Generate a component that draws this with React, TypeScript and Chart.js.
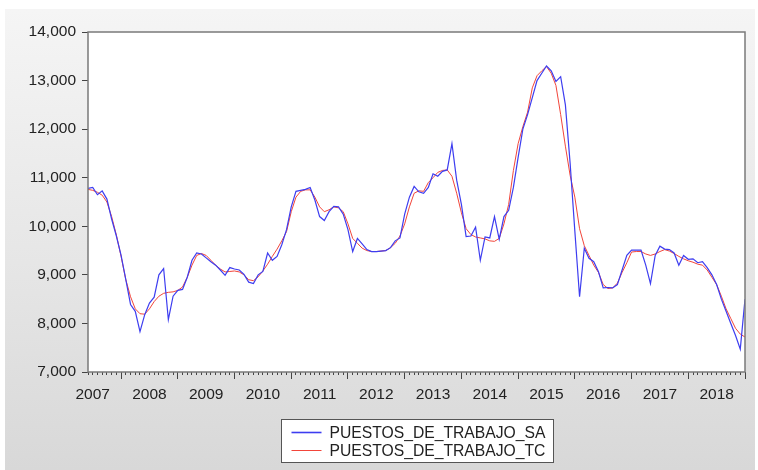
import React, { useEffect, useRef } from 'react';
import { Chart, registerables } from 'chart.js';

Chart.register(...registerables);

// Monthly observations, first one is 2007M06 (month offset 5 from Jan 2007)
const FIRST_YEAR = 2007;
const FIRST_MONTH_OFFSET = 5;

const seriesNames = ['PUESTOS_DE_TRABAJO_SA', 'PUESTOS_DE_TRABAJO_TC'];

const puestosSA = [
  10780, 10800, 10650, 10730, 10560, 10150, 9800, 9400, 8900, 8390,
  8250, 7830, 8180, 8420, 8540, 9000, 9130, 8080, 8560, 8680,
  8700, 8950, 9300, 9450, 9430, 9350, 9270, 9200, 9100, 8990,
  9150, 9120, 9100, 9010, 8850, 8820, 9000, 9070, 9450, 9300,
  9380, 9620, 9930, 10400, 10720, 10740, 10760, 10800, 10540, 10200,
  10120, 10300, 10410, 10400, 10250, 9930, 9480, 9750, 9640, 9520,
  9480, 9480, 9490, 9500, 9560, 9700, 9760, 10250, 10600, 10820,
  10710, 10680, 10800, 11080, 11030, 11130, 11160, 11700, 10950, 10450,
  9790, 9800, 9980, 9300, 9780, 9760, 10200, 9730, 10200, 10330,
  10800, 11420, 12000, 12300, 12650, 13000, 13150, 13300, 13200, 12980,
  13080, 12500, 11300, 9900, 8550, 9550, 9340, 9270, 9065, 8730,
  8740, 8730, 8800, 9100, 9400, 9510, 9510, 9510, 9200, 8820,
  9400, 9590, 9530, 9520, 9450, 9200, 9400, 9320, 9330, 9250,
  9270, 9150, 9000, 8800, 8500, 8250, 8000, 7750, 7470, 8500,
];

const puestosTC = [
  10760, 10740, 10700, 10640, 10500, 10200, 9820, 9380, 8900, 8550,
  8300, 8200, 8190, 8300, 8450, 8560, 8620, 8640, 8650, 8680,
  8750, 8950, 9200, 9400, 9440, 9400, 9300, 9200, 9120, 9060,
  9070, 9080, 9060, 9000, 8900, 8880, 8960, 9080, 9220, 9380,
  9530, 9700, 9890, 10300, 10600, 10720, 10750, 10750, 10600, 10400,
  10300, 10340, 10400, 10380, 10300, 10050, 9750, 9650, 9550, 9500,
  9480, 9480, 9490, 9500, 9560, 9650, 9800, 10050, 10400, 10680,
  10730, 10720, 10900, 11000, 11110, 11150, 11160, 11030, 10680, 10280,
  9950, 9830, 9780, 9760, 9740, 9700, 9690, 9750, 10050, 10450,
  11150, 11700, 12050, 12350, 12850, 13100, 13200, 13290, 13150, 12900,
  12300, 11650, 11050, 10600, 9950, 9600, 9400, 9200, 9050, 8800,
  8720, 8730, 8830, 9050, 9250, 9470, 9480, 9480, 9430, 9400,
  9430, 9480, 9520, 9490, 9440, 9380, 9330, 9290, 9260, 9220,
  9200, 9100, 8950, 8800, 8560, 8300, 8100, 7900, 7780, 7720,
];

const yTickValues = [7000, 8000, 9000, 10000, 11000, 12000, 13000, 14000];
const yearLabels = ['2007', '2008', '2009', '2010', '2011', '2012', '2013', '2014', '2015', '2016', '2017', '2018'];

const FONT = '"Liberation Sans", Arial, sans-serif';

const xValues = puestosSA.map((_, i) => FIRST_YEAR + (FIRST_MONTH_OFFSET + i) / 12);
const X_MIN = xValues[0];
const X_MAX = xValues[xValues.length - 1];

const monthTicks: number[] = [];
for (let k = FIRST_MONTH_OFFSET; k <= FIRST_MONTH_OFFSET + puestosSA.length - 1; k++) {
  monthTicks.push(FIRST_YEAR + k / 12);
}
const yearTicks: number[] = [];
for (let y = FIRST_YEAR + 1; y <= Math.floor(X_MAX + 1e-9); y++) yearTicks.push(y);

const frame = {
  id: 'evFrame',
  beforeDraw(chart: any) {
    const { ctx, chartArea: a } = chart;
    ctx.save();
    ctx.fillStyle = '#ffffff';
    ctx.fillRect(a.left, a.top, a.right - a.left, a.bottom - a.top);
    ctx.restore();
  },
  afterDatasetsDraw(chart: any) {
    const { ctx, chartArea: a } = chart;
    ctx.save();
    ctx.strokeStyle = '#7a7a7a';
    ctx.lineWidth = 1.5;
    ctx.strokeRect(a.left, a.top, a.right - a.left, a.bottom - a.top);
    ctx.restore();
  },
  afterDraw(chart: any) {
    const { ctx, chartArea: a } = chart;
    const ds = chart.data.datasets;
    ctx.save();
    ctx.font = '15.7px ' + FONT;
    const tw = Math.max(...ds.map((d: any) => ctx.measureText(d.label).width));
    const padL = 10, sample = 30, gap = 8, padR = 8;
    const w = Math.round(padL + sample + gap + tw + padR);
    const h = 43;
    const x0 = Math.round((a.left + a.right) / 2 - w / 2) + 0.5;
    const y0 = Math.round(a.bottom + 47) + 0.5;
    ctx.fillStyle = '#ffffff';
    ctx.fillRect(x0, y0, w, h);
    ctx.strokeStyle = '#555555';
    ctx.lineWidth = 1;
    ctx.strokeRect(x0, y0, w, h);
    ds.forEach((d: any, r: number) => {
      const yy = y0 + 13 + r * 18;
      ctx.strokeStyle = d.borderColor;
      ctx.lineWidth = r === 0 ? 1.6 : 1;
      ctx.beginPath();
      ctx.moveTo(x0 + padL, yy);
      ctx.lineTo(x0 + padL + sample, yy);
      ctx.stroke();
      ctx.fillStyle = '#222222';
      ctx.textBaseline = 'middle';
      ctx.textAlign = 'left';
      ctx.fillText(d.label, x0 + padL + sample + gap, yy + 1);
    });
    ctx.restore();
  },
};

export default function App() {
  const ref = useRef<HTMLCanvasElement | null>(null);

  useEffect(() => {
    if (!ref.current) return;
    const chart = new Chart(ref.current, {
      type: 'line',
      data: {
        datasets: [
          {
            label: seriesNames[0],
            data: puestosSA.map((v, i) => ({ x: xValues[i], y: v })),
            borderColor: '#3d3df0',
            borderWidth: 1.2,
            pointRadius: 0,
            tension: 0,
          },
          {
            label: seriesNames[1],
            data: puestosTC.map((v, i) => ({ x: xValues[i], y: v })),
            borderColor: '#f2453a',
            borderWidth: 1,
            pointRadius: 0,
            tension: 0,
          },
        ],
      },
      plugins: [frame],
      options: {
        animation: false,
        responsive: false,
        events: [],
        layout: { padding: { left: 0, top: 23, right: 9, bottom: 0 } },
        plugins: { legend: { display: false }, tooltip: { enabled: false } },
        scales: {
          xMajor: {
            type: 'linear',
            position: 'bottom',
            weight: -1,
            min: X_MIN,
            max: X_MAX,
            afterBuildTicks: (s: any) => {
              s.ticks = yearTicks.map((v) => ({ value: v }));
            },
            ticks: { display: false },
            grid: { drawOnChartArea: false, drawTicks: true, tickLength: 7, tickColor: '#444444', tickWidth: 1 },
            border: { display: false },
            afterFit: (s: any) => {
              s.height = 0;
            },
          },
          x: {
            type: 'linear',
            position: 'bottom',
            weight: 0,
            min: X_MIN,
            max: X_MAX,
            afterBuildTicks: (s: any) => {
              s.ticks = monthTicks.map((v) => ({ value: v }));
            },
            ticks: {
              autoSkip: false,
              maxRotation: 0,
              minRotation: 0,
              padding: 10,
              color: '#222222',
              font: { family: FONT, size: 15.5 },
              callback: (value: any) => {
                const k = Math.round((Number(value) - FIRST_YEAR) * 12);
                if (k % 12 === 6) return yearLabels[(k - 6) / 12] ?? '';
                return '';
              },
            },
            grid: { drawOnChartArea: false, drawTicks: true, tickLength: 3, tickColor: '#444444', tickWidth: 1 },
            border: { display: false },
            afterFit: (s: any) => {
              s.height = 98;
            },
          },
          y: {
            type: 'linear',
            position: 'left',
            min: 7000,
            max: 14000,
            afterBuildTicks: (s: any) => {
              s.ticks = yTickValues.map((v) => ({ value: v }));
            },
            ticks: {
              padding: 6,
              color: '#222222',
              font: { family: FONT, size: 15.5 },
              callback: (value: any) => Number(value).toLocaleString('en-US'),
            },
            grid: { drawOnChartArea: false, drawTicks: true, tickLength: 6, tickColor: '#444444', tickWidth: 1 },
            border: { display: false },
            afterFit: (s: any) => {
              s.width = 83;
            },
          },
        },
      } as any,
    });
    return () => chart.destroy();
  }, []);

  return (
    <div style={{ position: 'fixed', left: 0, top: 0, width: 758, height: 470, background: '#ffffff', overflow: 'hidden' }}>
      <div
        style={{
          position: 'absolute',
          left: 5,
          top: 9,
          width: 750,
          height: 461,
          background: 'linear-gradient(to bottom, #f5f5f5 0%, #e6e6e6 55%, #d8d8d8 100%)',
        }}
      >
        <canvas ref={ref} width={750} height={461} style={{ display: 'block', width: 750, height: 461 }} />
      </div>
    </div>
  );
}
